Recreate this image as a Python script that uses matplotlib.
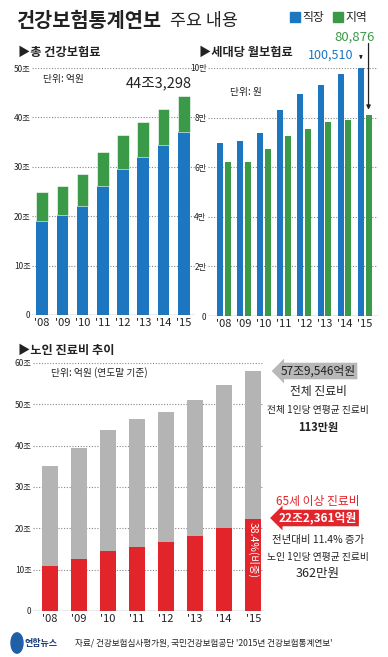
import matplotlib
matplotlib.use("Agg")
import matplotlib.pyplot as plt
from matplotlib.patches import Circle, Rectangle

plt.rcParams['font.family'] = ['Noto Sans CJK KR', 'DejaVu Sans']

W, H = 388, 657

years = ["'08", "'09", "'10", "'11", "'12", "'13", "'14", "'15"]

# 총 건강보험료 (조원)
premium_total = [25.0, 26.1, 28.5, 33.0, 36.4, 39.1, 41.8, 44.33]
premium_employee = [19.0, 20.2, 22.1, 26.2, 29.5, 32.0, 34.4, 37.1]

# 세대당 월보험료 (원)
monthly_employee = [69600, 70600, 73800, 83100, 89400, 93100, 97500, 100510]
monthly_regional = [62200, 62200, 67300, 72600, 75500, 78200, 79000, 80876]

# 노인 진료비 (조원)
medical_total = [35.1, 39.5, 43.8, 46.4, 48.1, 51.1, 54.6, 57.95]
medical_elderly = [10.9, 12.6, 14.4, 15.6, 16.7, 18.2, 20.1, 22.24]

premium_ticks = [0, 10, 20, 30, 40, 50]
premium_ticklabels = ["0", "10조", "20조", "30조", "40조", "50조"]
monthly_ticks = [0, 20000, 40000, 60000, 80000, 100000]
monthly_ticklabels = ["0", "2만", "4만", "6만", "8만", "10만"]
medical_ticks = [0, 10, 20, 30, 40, 50, 60]
medical_ticklabels = ["0", "10조", "20조", "30조", "40조", "50조", "60조"]

BLUE = "#1d76c0"
GREEN = "#3a9a48"
GRAY = "#b4b4b4"
RED = "#e2252b"
DARK = "#222222"


def px_axes(fig, left, top, right, bottom):
    return fig.add_axes([left / W, 1 - bottom / H, (right - left) / W, (bottom - top) / H])


def style_axes(ax, ticks, labels, ylim):
    ax.set_ylim(*ylim)
    ax.set_yticks(ticks)
    ax.set_yticklabels(labels, fontsize=6, color=DARK)
    ax.tick_params(axis="y", length=0, pad=1)
    ax.tick_params(axis="x", length=0, pad=2.5, labelsize=8, labelcolor=DARK)
    for s in ax.spines.values():
        s.set_visible(False)
    for t in ticks[1:]:
        ax.axhline(t, color="#888888", lw=0.8, ls=(0, (1, 1.5)), zorder=0)
    ax.axhline(0, color="#666666", lw=0.9, zorder=3)
    ax.set_facecolor("none")


fig = plt.figure(figsize=(W / 100, H / 100), dpi=100)
fig.patch.set_facecolor("white")

# header
fig.text(17 / W, 1 - 21 / H, "건강보험통계연보", fontsize=14.2, fontweight="bold", color=DARK, va="center")
fig.text(170 / W, 1 - 21 / H, "주요 내용", fontsize=12.5, color=DARK, va="center")
fig.patches.append(Rectangle((290 / W, 1 - 22 / H), 10 / W, 10 / H, transform=fig.transFigure, color=BLUE))
fig.text(302 / W, 1 - 17 / H, "직장", fontsize=8.5, color=DARK, va="center")
fig.patches.append(Rectangle((333 / W, 1 - 22 / H), 10 / W, 10 / H, transform=fig.transFigure, color=GREEN))
fig.text(345 / W, 1 - 17 / H, "지역", fontsize=8.5, color=DARK, va="center")

fig.text(18 / W, 1 - 52 / H, "▶총 건강보험료", fontsize=8.8, fontweight="bold", color=DARK, va="center")
fig.text(199 / W, 1 - 52 / H, "▶세대당 월보험료", fontsize=8.8, fontweight="bold", color=DARK, va="center")

# 총 건강보험료
ax1 = px_axes(fig, 32, 68, 195, 315)
x = list(range(len(years)))
premium_regional = [t - e for t, e in zip(premium_total, premium_employee)]
ax1.bar(x, premium_employee, width=0.58, color=BLUE, zorder=2)
ax1.bar(x, premium_regional, bottom=premium_employee, width=0.58, color=GREEN,
        edgecolor="white", linewidth=0.4, zorder=2)
ax1.set_xlim(-0.5, 7.55)
ax1.set_xticks(x)
ax1.set_xticklabels(years)
style_axes(ax1, premium_ticks, premium_ticklabels, (0, 50))
ax1.text(0.05, 47.8, "단위: 억원", fontsize=7, color=DARK, va="center")
ax1.text(7.4, premium_total[-1] + 1.2, "44조3,298", fontsize=10.5, color=DARK, ha="right", va="bottom")

# 세대당 월보험료
ax2 = px_axes(fig, 208, 68, 378, 316)
off = 0.19
ax2.bar([i - off for i in x], monthly_employee, width=0.3, color=BLUE, zorder=2)
ax2.bar([i + off for i in x], monthly_regional, width=0.3, color=GREEN, zorder=2)
ax2.set_xlim(-0.78, 7.66)
ax2.set_xticks(x)
ax2.set_xticklabels(years)
style_axes(ax2, monthly_ticks, monthly_ticklabels, (0, 100000))
ax2.text(0.3, 90500, "단위: 원", fontsize=7, color=DARK, va="center")
fig.text(375 / W, 1 - 37 / H, "80,876", fontsize=9.5, color=GREEN, ha="right", va="center")
fig.text(353 / W, 1 - 55 / H, "100,510", fontsize=9, color=BLUE, ha="right", va="center")
ax2.annotate("", xy=(7 - off, monthly_employee[-1] + 2000), xytext=(7 - off, monthly_employee[-1] + 5000),
             arrowprops=dict(arrowstyle="-|>", color=DARK, lw=0.8, mutation_scale=4),
             annotation_clip=False)
ax2.annotate("", xy=(7 + off, monthly_regional[-1] + 1200), xytext=(7 + off, 111000),
             arrowprops=dict(arrowstyle="-|>", color=DARK, lw=0.9, mutation_scale=6),
             annotation_clip=False)

# 노인 진료비 추이
fig.text(18 / W, 1 - 350 / H, "▶노인 진료비 추이", fontsize=8.8, fontweight="bold", color=DARK, va="center")
ax3 = px_axes(fig, 33, 363, 264, 611)
ax3.bar(x, medical_total, width=0.55, color=GRAY, zorder=2)
ax3.bar(x, medical_elderly, width=0.55, color=RED, zorder=2)
ax3.set_xlim(-0.58, 7.37)
ax3.set_xticks(x)
ax3.set_xticklabels(years)
style_axes(ax3, medical_ticks, medical_ticklabels, (0, 60))
ax3.text(0.05, 57.6, "단위: 억원 (연도말 기준)", fontsize=7, color=DARK, va="center")
share = medical_elderly[-1] / medical_total[-1] * 100
ax3.text(7, medical_elderly[-1] - 0.8, f"{share:.1f}%(비중)", rotation=-90, fontsize=7.5,
         color="white", ha="center", va="top", zorder=4)

cx = 318 / W
fig.text(cx, 1 - 371 / H, "57조9,546억원", fontsize=8.5, color=DARK, ha="center", va="center",
         bbox=dict(boxstyle="larrow,pad=0.15", fc="#b8b8b8", ec="none"))
fig.text(cx, 1 - 392 / H, "전체 진료비", fontsize=8.5, color=DARK, ha="center", va="center")
fig.text(cx, 1 - 410 / H, "전체 1인당 연평균 진료비", fontsize=7, color=DARK, ha="center", va="center")
fig.text(cx, 1 - 427 / H, "113만원", fontsize=8, fontweight="bold", color=DARK, ha="center", va="center")

fig.text(cx, 1 - 502 / H, "65세 이상 진료비", fontsize=8.5, color=RED, ha="center", va="center")
fig.text(cx, 1 - 518 / H, "22조2,361억원", fontsize=8.5, fontweight="bold", color="white", ha="center",
         va="center", bbox=dict(boxstyle="larrow,pad=0.15", fc=RED, ec="none"))
fig.text(cx, 1 - 540 / H, "전년대비 11.4% 증가", fontsize=7.5, color=DARK, ha="center", va="center")
fig.text(cx, 1 - 557 / H, "노인 1인당 연평균 진료비", fontsize=7, color=DARK, ha="center", va="center")
fig.text(cx, 1 - 573 / H, "362만원", fontsize=9, color=DARK, ha="center", va="center")

# footer
fig.patches.append(Circle((17 / W, 1 - 643 / H), 6 / W, transform=fig.transFigure, color="#1f5fa8"))
fig.text(25 / W, 1 - 643 / H, "연합뉴스", fontsize=6.5, fontweight="bold", color="#1d3f7a", va="center")
fig.text(75 / W, 1 - 643 / H, "자료/ 건강보험심사평가원, 국민건강보험공단 '2015년 건강보험통계연보'",
         fontsize=6.2, color=DARK, va="center", style="italic")

fig.savefig("out.png", dpi=100, facecolor="white")
